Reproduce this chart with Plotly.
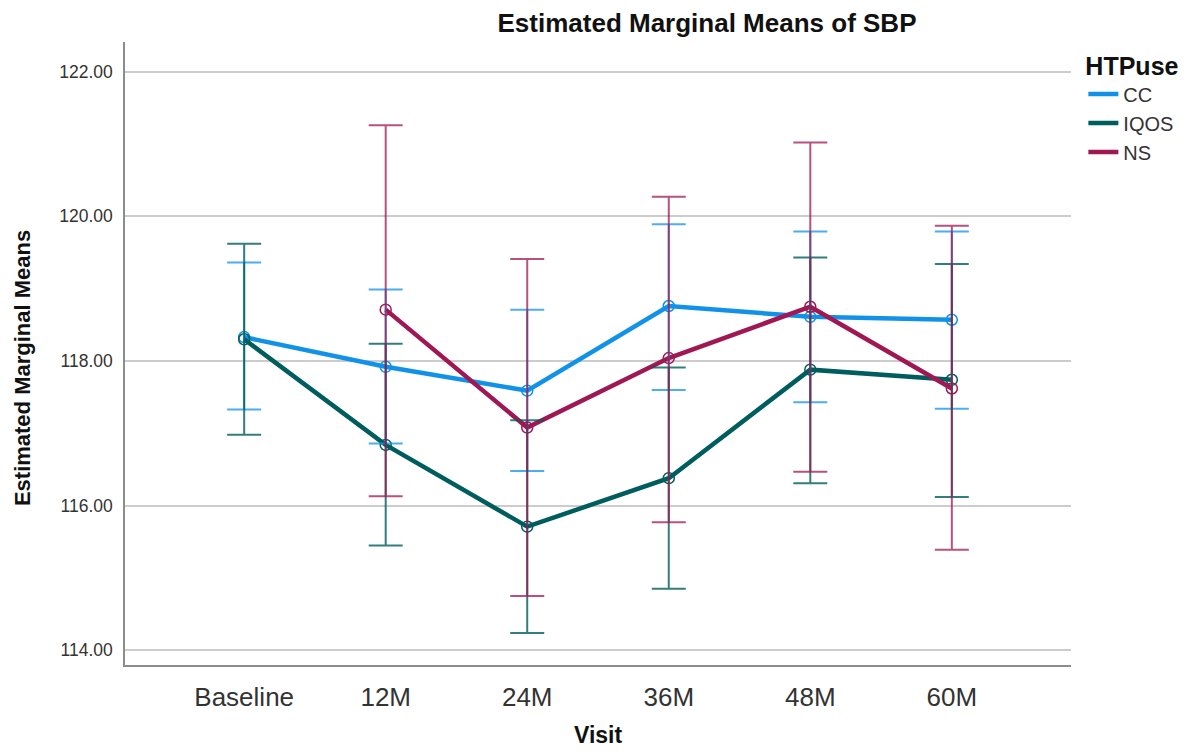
import plotly.graph_objects as go

visits = ["Baseline", "12M", "24M", "36M", "48M", "60M"]

cc_mean = [118.33, 117.92, 117.59, 118.76, 118.61, 118.57]
cc_upper = [119.36, 118.99, 118.71, 119.89, 119.79, 119.79]
cc_lower = [117.33, 116.86, 116.48, 117.60, 117.43, 117.34]

iqos_mean = [118.30, 116.84, 115.71, 116.38, 117.88, 117.74]
iqos_upper = [119.62, 118.24, 117.18, 117.91, 119.43, 119.34]
iqos_lower = [116.98, 115.45, 114.24, 114.85, 116.31, 116.12]

ns_mean = [None, 118.71, 117.08, 118.04, 118.75, 117.62]
ns_upper = [None, 121.26, 119.41, 120.27, 121.02, 119.87]
ns_lower = [None, 116.13, 114.75, 115.77, 116.47, 115.39]

groups = ["CC", "IQOS", "NS"]
colors = {"CC": "#1192e8", "IQOS": "#005d5d", "NS": "#9f1853"}
err_colors = {"CC": "rgba(17,146,232,0.75)", "IQOS": "rgba(0,93,93,0.8)", "NS": "rgba(159,24,83,0.75)"}
series = {
    "CC": (cc_mean, cc_upper, cc_lower),
    "IQOS": (iqos_mean, iqos_upper, iqos_lower),
    "NS": (ns_mean, ns_upper, ns_lower),
}

xi = list(range(len(visits)))
fig = go.Figure()

# mean lines with open-circle markers
for g in groups:
    m, u, l = series[g]
    fig.add_trace(go.Scatter(
        x=xi, y=m, mode="lines+markers", name=g, showlegend=False,
        line=dict(color=colors[g], width=4.5),
        marker=dict(symbol="circle-open", size=11, color=colors[g], line=dict(width=1.5)),
        connectgaps=False,
    ))

# error bars on top
for g in groups:
    m, u, l = series[g]
    plus = [None if v is None else uu - v for v, uu in zip(m, u)]
    minus = [None if v is None else v - ll for v, ll in zip(m, l)]
    fig.add_trace(go.Scatter(
        x=xi, y=m, mode="markers", showlegend=False, hoverinfo="skip",
        marker=dict(size=1, opacity=0, color=colors[g]),
        error_y=dict(type="data", symmetric=False, array=plus, arrayminus=minus,
                     color=err_colors[g], thickness=2, width=17),
    ))

# legend entries (line samples only)
for g in groups:
    fig.add_trace(go.Scatter(
        x=[None], y=[None], mode="lines", name=g,
        line=dict(color=colors[g], width=4.5),
    ))

# page body has an 8px margin: figure sits at (8, 8)
W, H = 1184, 739
L, T = 117, 34
PW, PH = 947, 623

fig.update_layout(
    width=W, height=H,
    margin=dict(l=L, r=W - L - PW, t=T, b=H - T - PH),
    paper_bgcolor="white", plot_bgcolor="white",
    font=dict(family="Liberation Sans, Arial, sans-serif", color="#333333"),
    title=dict(text="<b>Estimated Marginal Means of SBP</b>", x=(707 - 8) / W, xanchor="center",
               xref="container", y=1 - (23 - 8) / H, yanchor="middle", yref="container",
               font=dict(size=26, color="#111111")),
    legend=dict(
        x=1.012, y=1.0, xanchor="left", yanchor="top",
        title=dict(text="<b>HTPuse</b>", font=dict(size=25, color="#111111")),
        font=dict(size=20, color="#333333"),
        bgcolor="rgba(0,0,0,0)", tracegroupgap=0,
    ),
    showlegend=True,
)

fig.update_xaxes(
    tickmode="array", tickvals=xi, ticktext=visits,
    range=[-0.842, 5.842], showgrid=False, zeroline=False,
    showline=True, linecolor="#8c8c8c", linewidth=1.5,
    ticks="outside", ticklen=8, tickcolor="rgba(0,0,0,0)",
    tickfont=dict(size=26, color="#333333"),
)
fig.update_yaxes(
    range=[113.797, 122.41], tick0=114, dtick=2, tickformat=".2f",
    showgrid=True, gridcolor="#cccccc", gridwidth=1.5, zeroline=False,
    showline=True, linecolor="#8c8c8c", linewidth=1.5,
    ticks="outside", ticklen=7, tickcolor="rgba(0,0,0,0)",
    tickfont=dict(size=17.5, color="#333333"),
)

fig.add_annotation(text="<b>Estimated Marginal Means</b>", xref="paper", yref="paper",
                   x=(22 - 125) / PW, y=(665 - 368) / PH, xanchor="center", yanchor="middle",
                   textangle=-90, showarrow=False, font=dict(size=22, color="#111111"))
fig.add_annotation(text="<b>Visit</b>", xref="paper", yref="paper",
                   x=(599 - 125) / PW, y=(665 - 735) / PH, xanchor="center", yanchor="middle",
                   showarrow=False, font=dict(size=23, color="#111111"))

fig.write_html("out.html")
